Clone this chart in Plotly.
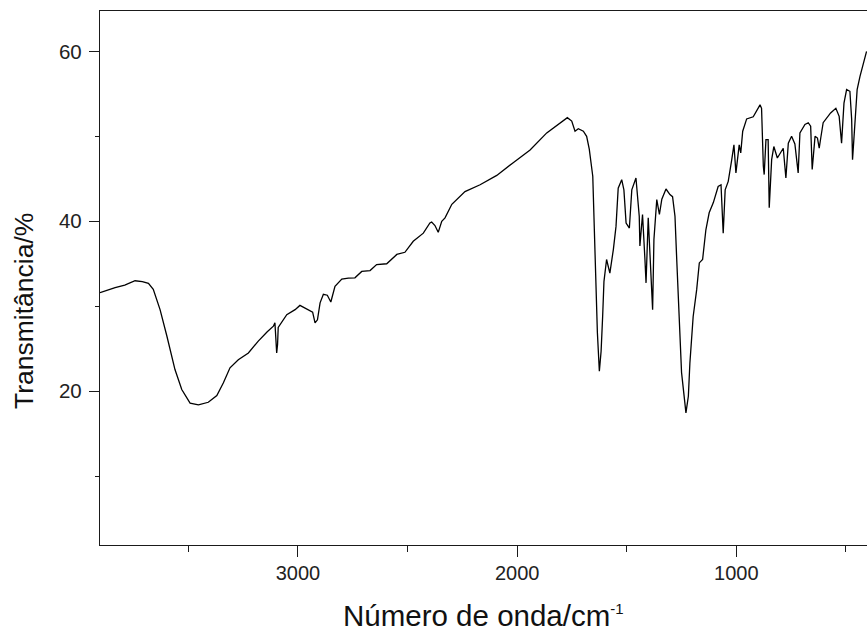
import plotly.graph_objects as go

wavenumber = [3903, 3870, 3834, 3790, 3743, 3710, 3682, 3660, 3629, 3598, 3561, 3530,
              3492, 3454, 3409, 3370, 3340, 3310, 3272, 3226, 3181, 3140, 3112, 3105,
              3100, 3097, 3093, 3090, 3051, 3013, 2991, 2945, 2933, 2922, 2911, 2899,
              2884, 2866, 2850, 2831, 2800, 2770, 2740, 2709, 2671, 2641, 2595, 2549,
              2512, 2474, 2428, 2398, 2390, 2375, 2360, 2344, 2329, 2298, 2238, 2169,
              2093, 2018, 1941, 1865, 1797, 1771, 1751, 1736, 1721, 1698, 1683, 1671,
              1655, 1649, 1640, 1634, 1625, 1617, 1610, 1604, 1592, 1577, 1561, 1549,
              1539, 1523, 1513, 1503, 1488, 1477, 1458, 1443, 1440, 1428, 1417, 1412,
              1402, 1394, 1382, 1376, 1363, 1351, 1340, 1321, 1303, 1291, 1280, 1272,
              1265, 1257, 1250, 1239, 1230, 1219, 1212, 1197, 1181, 1169, 1154, 1139,
              1124, 1105, 1083, 1070, 1062, 1060, 1051, 1037, 1021, 1011, 1002, 987,
              980, 971, 953, 923, 892, 885, 877, 873, 865, 855, 850, 839,
              829, 813, 786, 774, 763, 748, 733, 718, 710, 687, 672, 661,
              654, 641, 630, 622, 615, 604, 570, 546, 531, 520, 509, 497,
              482, 474, 470, 459, 449, 436, 421, 406]

transmittance = [31.6, 31.9, 32.2, 32.5, 33.0, 32.9, 32.7, 32.0, 29.6, 26.5, 22.55, 20.2,
                 18.6, 18.4, 18.7, 19.5, 21.0, 22.75, 23.7, 24.5, 25.9, 27.0, 27.65, 28.05,
                 26.0, 24.5, 25.5, 27.5, 29.0, 29.6, 30.1, 29.4, 29.3, 28.05, 28.4, 30.4,
                 31.4, 31.3, 30.5, 32.35, 33.2, 33.3, 33.35, 34.1, 34.2, 34.9, 35.0, 36.1,
                 36.35, 37.65, 38.6, 39.8, 39.9, 39.5, 38.7, 40.0, 40.4, 42.0, 43.5, 44.3,
                 45.4, 46.9, 48.4, 50.4, 51.65, 52.2, 51.8, 50.6, 50.9, 50.6, 50.0, 48.5,
                 45.3, 39.4, 32.9, 26.9, 22.35, 24.7, 28.8, 32.9, 35.5, 33.9, 36.7, 39.4,
                 43.9, 44.9, 43.7, 39.8, 39.2, 43.7, 45.1, 40.6, 37.1, 40.8, 35.5, 32.75,
                 40.4, 35.9, 29.6, 37.85, 42.55, 40.8, 42.6, 43.8, 43.15, 42.9, 40.6, 35.5,
                 30.8, 26.1, 22.2, 19.6, 17.45, 19.4, 23.3, 28.8, 31.95, 35.1, 35.5, 39.0,
                 41.0, 42.2, 44.1, 44.3, 39.4, 38.6, 43.7, 44.7, 47.25, 49.0, 45.7, 49.0,
                 48.05, 50.6, 52.05, 52.3, 53.7, 53.3, 46.5, 45.5, 49.6, 49.6, 41.6, 47.25,
                 48.8, 47.45, 48.6, 45.1, 49.2, 50.0, 49.1, 45.7, 50.4, 51.4, 51.6, 51.2,
                 46.1, 50.0, 49.8, 48.6, 49.8, 51.6, 52.75, 53.3, 52.35, 49.2, 53.9, 55.5,
                 55.3, 52.0, 47.25, 52.0, 55.5, 57.05, 58.6, 60.0]

x_range = [3903, 404]
y_range = [1.9, 64.75]
x_tick_vals = [3000, 2000, 1000]
x_tick_text = ["3000", "2000", "1000"]
y_tick_vals = [20, 40, 60]
y_tick_text = ["20", "40", "60"]

x_title = "Número de onda/cm<sup><span style=\"font-size:15px\">-1</span></sup>"
y_title = "Transmitância/%"

FONT = "Liberation Sans, Arial, sans-serif"
AXC = "#1a1a1a"

fig = go.Figure()
fig.add_trace(go.Scatter(x=wavenumber, y=transmittance, mode="lines",
                         line=dict(color="black", width=1.3), showlegend=False,
                         hoverinfo="skip"))

fig.update_layout(
    width=867, height=630,
    margin=dict(l=100, r=0, t=11, b=85),
    paper_bgcolor="white", plot_bgcolor="white",
    font=dict(family=FONT, color="#222222"),
    xaxis=dict(range=x_range, tickvals=x_tick_vals, ticktext=x_tick_text,
               automargin=False,
               showgrid=False, zeroline=False, showline=True, linecolor=AXC,
               linewidth=1.3, mirror=True, ticks="outside", ticklen=11,
               tickwidth=1.2, tickcolor=AXC, tickfont=dict(size=20, family=FONT, color="#222222"),
               ticklabelstandoff=-1,
               minor=dict(tickvals=[3500, 2500, 1500, 500], ticks="outside",
                          ticklen=6, tickwidth=1.2, tickcolor=AXC)),
    yaxis=dict(range=y_range, tickvals=y_tick_vals, ticktext=y_tick_text,
               automargin=False,
               showgrid=False, zeroline=False, showline=True, linecolor=AXC,
               linewidth=1.3, mirror=False, ticks="outside", ticklen=10,
               tickwidth=1.2, tickcolor=AXC, tickfont=dict(size=20.5, family=FONT, color="#222222"),
               ticklabelstandoff=3,
               minor=dict(tickvals=[10, 30, 50], ticks="outside",
                          ticklen=4, tickwidth=1.2, tickcolor=AXC)),
    annotations=[
        dict(text=x_title, xref="paper", yref="paper", x=0.5, y=0,
             xanchor="center", yanchor="middle", yshift=-70, showarrow=False,
             font=dict(size=29.5, family=FONT, color="#111111")),
        dict(text=y_title, xref="paper", yref="paper", x=0, y=0.5,
             xanchor="center", yanchor="middle", xshift=-76, yshift=-33,
             textangle=-90, showarrow=False,
             font=dict(size=26.5, family=FONT, color="#111111")),
    ],
)

fig.write_html("out.html",
               config={"displayModeBar": False},
               post_script="document.body.style.margin='0';document.body.style.overflow='hidden';")
